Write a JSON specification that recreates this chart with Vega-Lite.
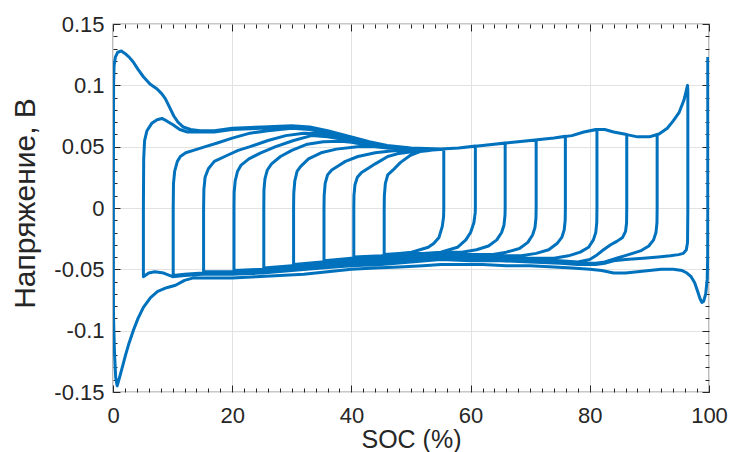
{
"$schema":"https://vega.github.io/schema/vega-lite/v6.json",
"width":596,"height":368,
"autosize":{"type":"none"},
"padding":{"left":113,"top":24,"right":21,"bottom":60},
"background":"white",
"config":{"view":{"stroke":"#262626","strokeWidth":1.2},"font":"Liberation Sans",
"axis":{"domain":false,"tickColor":"#262626","tickWidth":1,"labelFont":"Liberation Sans","labelColor":"#262626","labelFontSize":22,"titleFont":"Liberation Sans","titleColor":"#262626","titleFontWeight":"normal","gridColor":"#e2e2e2","gridWidth":1,"labelFlush":false,"labelOverlap":false}},
"data":{"values":[
{"x":99.8,"y":0.123},{"x":99.8,"y":0.06},{"x":99.8,"y":0.0},{"x":99.78,"y":-0.04},{"x":99.7,"y":-0.058},{"x":99.45,"y":-0.07},{"x":99.1,"y":-0.076},{"x":98.8,"y":-0.077},{"x":98.5,"y":-0.074},{"x":98.1,"y":-0.068},{"x":97.6,"y":-0.061},{"x":97.0,"y":-0.056},{"x":96.3,"y":-0.053},{"x":95.5,"y":-0.051},{"x":94,"y":-0.05},{"x":92,"y":-0.05},{"x":90,"y":-0.051},{"x":88,"y":-0.052},{"x":86,"y":-0.053},{"x":84,"y":-0.053},{"x":82,"y":-0.051},{"x":80,"y":-0.05},{"x":77,"y":-0.049},{"x":74,"y":-0.048},{"x":70,"y":-0.047},{"x":66,"y":-0.047},{"x":62,"y":-0.046},{"x":58,"y":-0.046},{"x":55,"y":-0.046},{"x":52,"y":-0.047},{"x":48,"y":-0.048},{"x":44,"y":-0.049},{"x":40,"y":-0.05},{"x":36,"y":-0.052},{"x":32,"y":-0.054},{"x":28,"y":-0.055},{"x":24,"y":-0.056},{"x":20,"y":-0.057},{"x":16,"y":-0.057},{"x":13.5,"y":-0.057},{"x":12,"y":-0.059},{"x":10.5,"y":-0.063},{"x":9,"y":-0.065},{"x":7.5,"y":-0.068},{"x":6.3,"y":-0.073},{"x":5.1,"y":-0.081},{"x":4.2,"y":-0.09},{"x":3.4,"y":-0.1},{"x":2.7,"y":-0.11},{"x":2.1,"y":-0.12},{"x":1.5,"y":-0.131},{"x":1.0,"y":-0.14},{"x":0.7,"y":-0.145},{"x":0.45,"y":-0.138},{"x":0.25,"y":-0.118},{"x":0.12,"y":-0.095},
{"x":0.08,"y":-0.085},{"x":0.07,"y":-0.05},{"x":0.07,"y":0.0},{"x":0.08,"y":0.06},{"x":0.1,"y":0.1},{"x":0.18,"y":0.116},{"x":0.4,"y":0.123},{"x":0.8,"y":0.127},{"x":1.4,"y":0.128},{"x":2.0,"y":0.126},{"x":2.7,"y":0.123},{"x":3.4,"y":0.119},{"x":4.2,"y":0.113},{"x":5.1,"y":0.107},{"x":6.2,"y":0.101},{"x":7.4,"y":0.097},{"x":8.2,"y":0.093},{"x":8.8,"y":0.089},{"x":9.5,"y":0.082},{"x":10.2,"y":0.075},{"x":10.9,"y":0.07},{"x":11.8,"y":0.066},{"x":13,"y":0.064},{"x":14.6,"y":0.063},{"x":17,"y":0.063},{"x":20,"y":0.065},{"x":25,"y":0.066},{"x":30,"y":0.067},{"x":33,"y":0.066},{"x":36,"y":0.063},{"x":40,"y":0.058},{"x":43,"y":0.054},{"x":46,"y":0.051},{"x":50,"y":0.049},{"x":55,"y":0.048},{"x":58,"y":0.049},{"x":62,"y":0.051},{"x":66,"y":0.053},{"x":70,"y":0.055},{"x":74,"y":0.057},{"x":77,"y":0.059},{"x":79,"y":0.062},{"x":81,"y":0.064},{"x":82.5,"y":0.064},{"x":84,"y":0.062},{"x":86,"y":0.06},{"x":88,"y":0.058},{"x":90,"y":0.058},{"x":91.5,"y":0.06},{"x":93,"y":0.065},{"x":94,"y":0.071},{"x":95,"y":0.078},{"x":95.8,"y":0.088},{"x":96.4,"y":0.1},
{"x":96.45,"y":0.095},{"x":96.45,"y":0.0},{"x":96.4,"y":-0.028},{"x":96.2,"y":-0.034},{"x":95.7,"y":-0.037},{"x":94.9,"y":-0.038},{"x":93.5,"y":-0.039},{"x":91.5,"y":-0.04},{"x":89,"y":-0.041},{"x":86,"y":-0.042},{"x":84,"y":-0.043},{"x":82.5,"y":-0.045},{"x":81,"y":-0.046},{"x":78,"y":-0.046},{"x":75,"y":-0.045},{"x":70,"y":-0.044},{"x":65,"y":-0.043},{"x":60,"y":-0.043},{"x":55,"y":-0.042},{"x":50,"y":-0.044},{"x":45,"y":-0.046},{"x":40,"y":-0.047},{"x":35,"y":-0.049},{"x":30,"y":-0.051},{"x":25,"y":-0.053},{"x":20,"y":-0.054},{"x":15,"y":-0.054},{"x":12,"y":-0.055},{"x":10,"y":-0.056},{"x":8.5,"y":-0.053},{"x":7,"y":-0.052},{"x":6,"y":-0.053},{"x":5.1,"y":-0.056},
{"x":5.1,"y":0.0},{"x":5.15,"y":0.04},{"x":5.3,"y":0.055},{"x":5.7,"y":0.063},{"x":6.5,"y":0.069},{"x":7.4,"y":0.072},{"x":8.2,"y":0.073},{"x":9,"y":0.071},{"x":10,"y":0.068},{"x":11.2,"y":0.064},{"x":12.5,"y":0.062},{"x":14.6,"y":0.062},{"x":17,"y":0.062},{"x":20,"y":0.064},{"x":25,"y":0.065},{"x":30,"y":0.066},{"x":33,"y":0.065},{"x":36,"y":0.062},{"x":40,"y":0.057},{"x":43,"y":0.0535},{"x":46,"y":0.0505},{"x":50,"y":0.049},{"x":55,"y":0.048},{"x":58,"y":0.049},{"x":62,"y":0.051},{"x":66,"y":0.053},{"x":70,"y":0.055},{"x":74,"y":0.057},{"x":77,"y":0.059},{"x":79,"y":0.062},{"x":81,"y":0.064},{"x":82.5,"y":0.064},{"x":84,"y":0.062},{"x":86,"y":0.06},{"x":88,"y":0.058},{"x":90,"y":0.058},{"x":91.3,"y":0.06},
{"x":91.3,"y":0.0},{"x":91.27,"y":-0.012},{"x":91.1,"y":-0.02},{"x":90.7,"y":-0.026},{"x":89.9,"y":-0.031},{"x":88.5,"y":-0.035},{"x":86.5,"y":-0.038},{"x":84.5,"y":-0.041},{"x":82.5,"y":-0.044},{"x":81,"y":-0.045},{"x":78,"y":-0.045},{"x":75,"y":-0.044},{"x":70,"y":-0.043},{"x":65,"y":-0.042},{"x":60,"y":-0.042},{"x":55,"y":-0.041},{"x":50,"y":-0.043},{"x":45,"y":-0.045},{"x":40,"y":-0.046},{"x":35,"y":-0.048},{"x":30,"y":-0.05},{"x":25,"y":-0.052},{"x":20,"y":-0.053},{"x":15,"y":-0.053},{"x":12,"y":-0.054},{"x":10.1,"y":-0.055},
{"x":10.1,"y":0.0},{"x":10.15,"y":0.02},{"x":10.35,"y":0.03},{"x":10.8,"y":0.038},{"x":11.3,"y":0.042},{"x":12.2,"y":0.045},{"x":13.5,"y":0.047},{"x":15.5,"y":0.05},{"x":17.5,"y":0.053},{"x":20,"y":0.057},{"x":23,"y":0.061},{"x":26,"y":0.063},{"x":30,"y":0.065},{"x":33,"y":0.064},{"x":36,"y":0.061},{"x":40,"y":0.0565},{"x":43,"y":0.053},{"x":46,"y":0.0504},{"x":50,"y":0.0488},{"x":55,"y":0.048},{"x":58,"y":0.049},{"x":62,"y":0.051},{"x":66,"y":0.053},{"x":70,"y":0.055},{"x":74,"y":0.057},{"x":77,"y":0.059},{"x":79,"y":0.062},{"x":81,"y":0.064},{"x":82.5,"y":0.064},{"x":84,"y":0.062},{"x":86.2,"y":0.06},
{"x":86.2,"y":0.0},{"x":86.17,"y":-0.012},{"x":86.0,"y":-0.019},{"x":85.5,"y":-0.024},{"x":84.6,"y":-0.027},{"x":83.5,"y":-0.03},{"x":82.3,"y":-0.034},{"x":81,"y":-0.039},{"x":80,"y":-0.042},{"x":78,"y":-0.044},{"x":75,"y":-0.043},{"x":70,"y":-0.042},{"x":65,"y":-0.041},{"x":60,"y":-0.041},{"x":55,"y":-0.04},{"x":50,"y":-0.042},{"x":45,"y":-0.044},{"x":40,"y":-0.045},{"x":35,"y":-0.047},{"x":30,"y":-0.049},{"x":25,"y":-0.051},{"x":20,"y":-0.052},{"x":15.2,"y":-0.052},
{"x":15.2,"y":0.0},{"x":15.25,"y":0.015},{"x":15.45,"y":0.025},{"x":16.0,"y":0.032},{"x":17,"y":0.038},{"x":19.2,"y":0.043},{"x":21,"y":0.047},{"x":23,"y":0.05},{"x":26,"y":0.055},{"x":29,"y":0.059},{"x":32,"y":0.061},{"x":35,"y":0.0605},{"x":38,"y":0.058},{"x":40,"y":0.0558},{"x":43,"y":0.0525},{"x":46,"y":0.0501},{"x":50,"y":0.0487},{"x":55,"y":0.048},{"x":58,"y":0.049},{"x":62,"y":0.051},{"x":66,"y":0.053},{"x":70,"y":0.055},{"x":74,"y":0.057},{"x":77,"y":0.059},{"x":79,"y":0.062},{"x":81.2,"y":0.064},
{"x":81.2,"y":0.0},{"x":81.17,"y":-0.012},{"x":81.0,"y":-0.02},{"x":80.6,"y":-0.026},{"x":79.8,"y":-0.032},{"x":78.4,"y":-0.036},{"x":76.4,"y":-0.039},{"x":74,"y":-0.041},{"x":70,"y":-0.041},{"x":65,"y":-0.04},{"x":60,"y":-0.04},{"x":55,"y":-0.039},{"x":50,"y":-0.041},{"x":45,"y":-0.043},{"x":40,"y":-0.044},{"x":35,"y":-0.046},{"x":30,"y":-0.048},{"x":25,"y":-0.05},{"x":20.3,"y":-0.051},
{"x":20.3,"y":0.0},{"x":20.33,"y":0.013},{"x":20.5,"y":0.022},{"x":20.9,"y":0.03},{"x":21.5,"y":0.035},{"x":22.8,"y":0.04},{"x":24.8,"y":0.045},{"x":27.3,"y":0.05},{"x":30.3,"y":0.055},{"x":33.3,"y":0.059},{"x":36,"y":0.058},{"x":38,"y":0.0565},{"x":40,"y":0.0552},{"x":43,"y":0.052},{"x":46,"y":0.0498},{"x":50,"y":0.0486},{"x":55,"y":0.048},{"x":58,"y":0.049},{"x":62,"y":0.051},{"x":66,"y":0.053},{"x":70,"y":0.055},{"x":74,"y":0.057},{"x":75.9,"y":0.0585},
{"x":75.9,"y":0.0},{"x":75.87,"y":-0.01},{"x":75.7,"y":-0.018},{"x":75.3,"y":-0.024},{"x":74.5,"y":-0.029},{"x":73.1,"y":-0.034},{"x":71,"y":-0.037},{"x":68.5,"y":-0.039},{"x":65,"y":-0.039},{"x":60,"y":-0.039},{"x":55,"y":-0.038},{"x":50,"y":-0.04},{"x":45,"y":-0.042},{"x":40,"y":-0.043},{"x":35,"y":-0.045},{"x":30,"y":-0.047},{"x":25.3,"y":-0.049},
{"x":25.3,"y":0.0},{"x":25.33,"y":0.015},{"x":25.5,"y":0.024},{"x":25.9,"y":0.031},{"x":26.6,"y":0.036},{"x":28.1,"y":0.042},{"x":30,"y":0.047},{"x":32.6,"y":0.052},{"x":35.3,"y":0.054},{"x":38.3,"y":0.0545},{"x":40,"y":0.0535},{"x":43,"y":0.051},{"x":46,"y":0.0493},{"x":50,"y":0.0485},{"x":55,"y":0.048},{"x":58,"y":0.049},{"x":62,"y":0.051},{"x":66,"y":0.053},{"x":71,"y":0.0555},
{"x":71,"y":0.0},{"x":70.97,"y":-0.008},{"x":70.8,"y":-0.016},{"x":70.4,"y":-0.022},{"x":69.6,"y":-0.028},{"x":68.2,"y":-0.033},{"x":66,"y":-0.036},{"x":63.5,"y":-0.038},{"x":60,"y":-0.038},{"x":55,"y":-0.037},{"x":50,"y":-0.039},{"x":45,"y":-0.041},{"x":40,"y":-0.042},{"x":35,"y":-0.044},{"x":30.3,"y":-0.046},
{"x":30.3,"y":0.0},{"x":30.33,"y":0.012},{"x":30.5,"y":0.022},{"x":30.9,"y":0.03},{"x":31.5,"y":0.034},{"x":32.8,"y":0.04},{"x":34.9,"y":0.045},{"x":37.5,"y":0.048},{"x":41,"y":0.05},{"x":43.5,"y":0.0502},{"x":46,"y":0.049},{"x":50,"y":0.0484},{"x":55,"y":0.048},{"x":58,"y":0.049},{"x":62,"y":0.051},{"x":65.8,"y":0.053},
{"x":65.8,"y":0.0},{"x":65.77,"y":-0.006},{"x":65.6,"y":-0.014},{"x":65.2,"y":-0.02},{"x":64.4,"y":-0.026},{"x":63,"y":-0.031},{"x":61,"y":-0.034},{"x":58.5,"y":-0.036},{"x":55,"y":-0.036},{"x":50,"y":-0.038},{"x":45,"y":-0.04},{"x":40,"y":-0.041},{"x":35.4,"y":-0.043},
{"x":35.4,"y":0.0},{"x":35.43,"y":0.01},{"x":35.6,"y":0.02},{"x":36.0,"y":0.027},{"x":36.7,"y":0.031},{"x":37.7,"y":0.034},{"x":39,"y":0.038},{"x":41.1,"y":0.042},{"x":44,"y":0.045},{"x":46.6,"y":0.0465},{"x":50,"y":0.0475},{"x":55,"y":0.048},{"x":58,"y":0.049},{"x":60.8,"y":0.0505},
{"x":60.8,"y":0.0},{"x":60.77,"y":-0.004},{"x":60.55,"y":-0.012},{"x":60.0,"y":-0.02},{"x":59.2,"y":-0.026},{"x":57.8,"y":-0.032},{"x":55,"y":-0.036},{"x":52,"y":-0.037},{"x":50,"y":-0.037},{"x":45,"y":-0.039},{"x":40.4,"y":-0.04},
{"x":40.4,"y":0.0},{"x":40.43,"y":0.01},{"x":40.6,"y":0.019},{"x":41.0,"y":0.025},{"x":41.7,"y":0.029},{"x":42.7,"y":0.032},{"x":44,"y":0.036},{"x":46.1,"y":0.042},{"x":48,"y":0.0445},{"x":50.4,"y":0.046},{"x":53,"y":0.047},{"x":55.5,"y":0.0478},
{"x":55.5,"y":0.0},{"x":55.47,"y":-0.007},{"x":55.25,"y":-0.015},{"x":54.7,"y":-0.024},{"x":53.8,"y":-0.029},{"x":52.9,"y":-0.032},{"x":51.5,"y":-0.034},{"x":50.1,"y":-0.036},{"x":48,"y":-0.037},{"x":45.5,"y":-0.038},
{"x":45.5,"y":0.0},{"x":45.53,"y":0.01},{"x":45.7,"y":0.02},{"x":46.1,"y":0.027},{"x":47,"y":0.031},{"x":48.2,"y":0.037},{"x":49.9,"y":0.043},{"x":51.5,"y":0.046},{"x":53.5,"y":0.047}
]},
"layer":[
{"mark":{"type":"line","color":"#0072BD","strokeWidth":3,"strokeJoin":"round","clip":true},
"encoding":{
"x":{"field":"x","type":"quantitative","scale":{"domain":[0,100],"nice":false,"zero":false},
"axis":{"orient":"bottom","values":[0,20,40,60,80,100],"grid":true,"tickSize":-7,"labelPadding":20,"title":"SOC (%)","titleFontSize":25,"titleY":55,"titleBaseline":"alphabetic"}},
"y":{"field":"y","type":"quantitative","scale":{"domain":[-0.15,0.15],"nice":false,"zero":false},
"axis":{"orient":"left","values":[-0.15,-0.1,-0.05,0,0.05,0.1,0.15],"grid":true,"tickSize":-7,"labelPadding":16,"labelExpr":"replace(format(datum.value, '.2~f'), '−', '-')","title":"Напряжение, В","titleFontSize":30,"titleX":-79,"titleY":179,"titleAlign":"center","titleBaseline":"alphabetic"}},
"order":{"value":null}}},
{"data":{"values":[{"x":0,"y":0}]},"mark":{"type":"point","opacity":0},
"encoding":{
"x":{"field":"x","type":"quantitative","scale":{"domain":[0,100],"nice":false,"zero":false},"axis":{"orient":"top","values":[0,20,40,60,80,100],"labels":false,"grid":false,"tickSize":-7,"title":null}},
"y":{"field":"y","type":"quantitative","scale":{"domain":[-0.15,0.15],"nice":false,"zero":false},"axis":{"orient":"right","values":[-0.15,-0.1,-0.05,0,0.05,0.1,0.15],"labels":false,"grid":false,"tickSize":-7,"title":null}}}},
{"data":{"values":[{"x":0,"y":0}]},"mark":{"type":"point","opacity":0},
"encoding":{
"x":{"field":"x","type":"quantitative","scale":{"domain":[0,100],"nice":false,"zero":false},"axis":{"orient":"bottom","values":[2,4,6,8,10,12,14,16,18,22,24,26,28,30,32,34,36,38,42,44,46,48,50,52,54,56,58,62,64,66,68,70,72,74,76,78,82,84,86,88,90,92,94,96,98],"labels":false,"grid":false,"tickSize":-4,"title":null}},
"y":{"field":"y","type":"quantitative","scale":{"domain":[-0.15,0.15],"nice":false,"zero":false},"axis":{"orient":"left","values":[-0.14,-0.13,-0.12,-0.11,-0.09,-0.08,-0.07,-0.06,-0.04,-0.03,-0.02,-0.01,0.01,0.02,0.03,0.04,0.06,0.07,0.08,0.09,0.11,0.12,0.13,0.14],"labels":false,"grid":false,"tickSize":-4,"title":null}}}},
{"data":{"values":[{"x":0,"y":0}]},"mark":{"type":"point","opacity":0},
"encoding":{
"x":{"field":"x","type":"quantitative","scale":{"domain":[0,100],"nice":false,"zero":false},"axis":{"orient":"top","values":[2,4,6,8,10,12,14,16,18,22,24,26,28,30,32,34,36,38,42,44,46,48,50,52,54,56,58,62,64,66,68,70,72,74,76,78,82,84,86,88,90,92,94,96,98],"labels":false,"grid":false,"tickSize":-4,"title":null}},
"y":{"field":"y","type":"quantitative","scale":{"domain":[-0.15,0.15],"nice":false,"zero":false},"axis":{"orient":"right","values":[-0.14,-0.13,-0.12,-0.11,-0.09,-0.08,-0.07,-0.06,-0.04,-0.03,-0.02,-0.01,0.01,0.02,0.03,0.04,0.06,0.07,0.08,0.09,0.11,0.12,0.13,0.14],"labels":false,"grid":false,"tickSize":-4,"title":null}}}}
],
"resolve":{"axis":{"x":"independent","y":"independent"}}
}
